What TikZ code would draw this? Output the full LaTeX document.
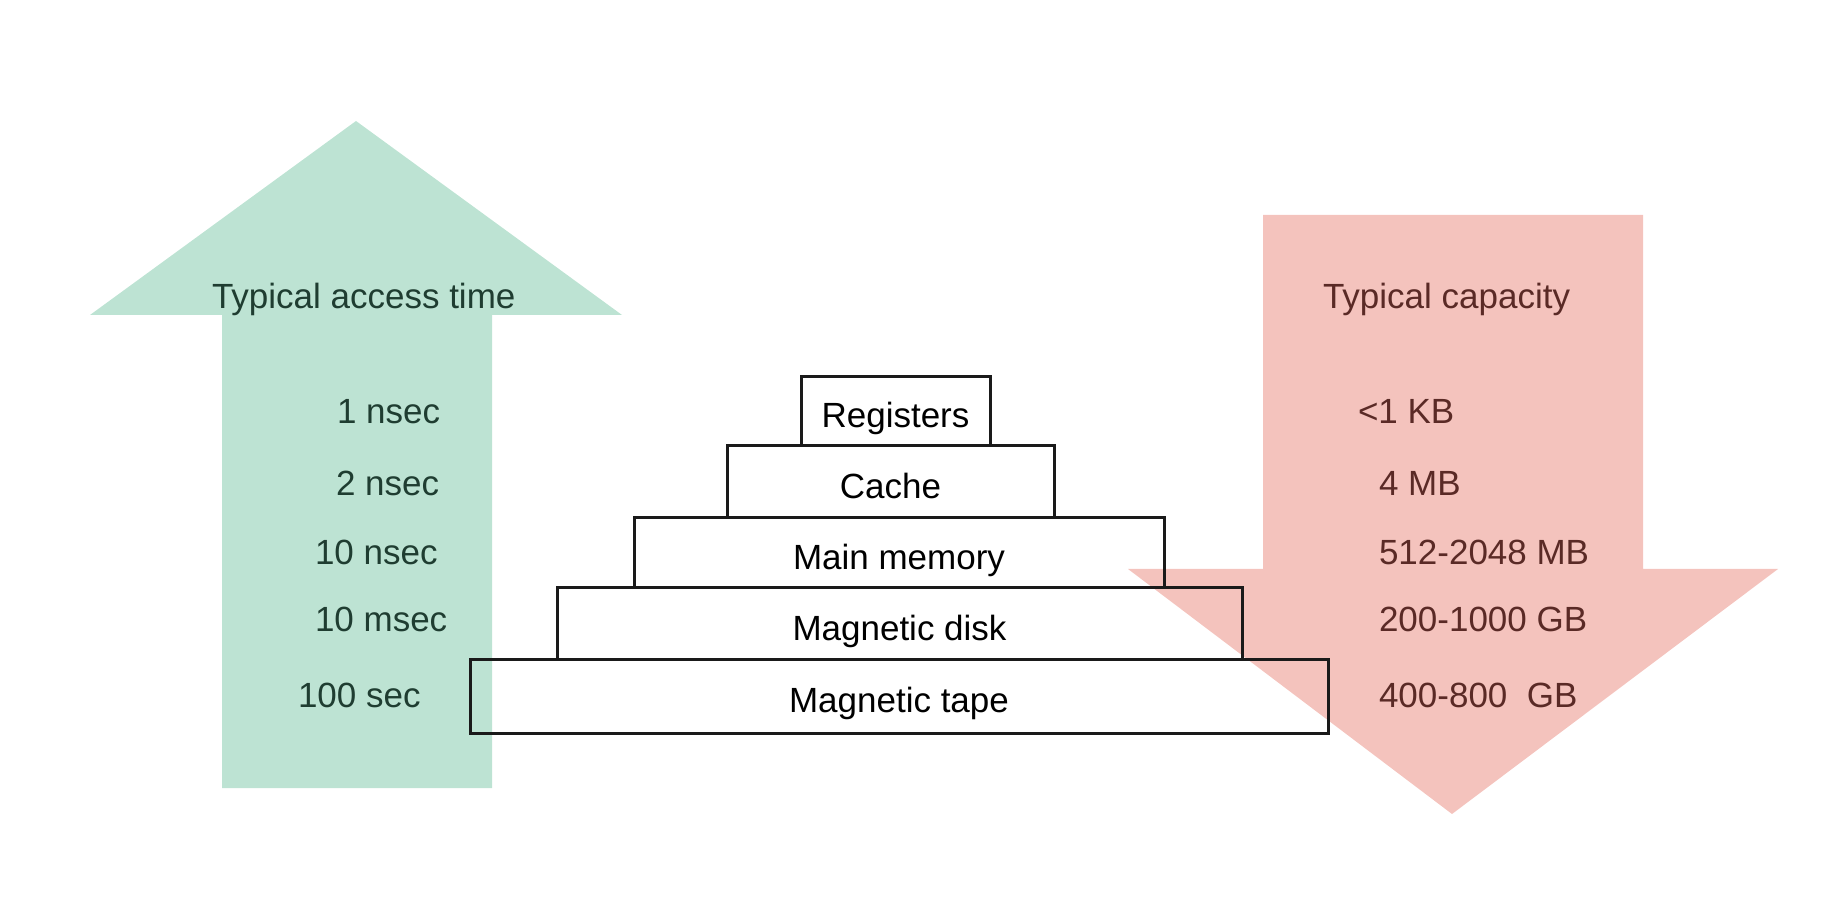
\documentclass[tikz,border=0pt]{standalone}
\usepackage{fontspec}
\setmainfont{Liberation Sans}
\definecolor{timegreen}{HTML}{BDE3D3}
\definecolor{capred}{HTML}{F4C3BD}
\definecolor{timetext}{HTML}{1F3D31}
\definecolor{captext}{HTML}{5A2A26}
\definecolor{tierline}{HTML}{1A1A1A}
\begin{document}
\begin{tikzpicture}[x=0.5pt,y=-0.5pt,
  every node/.style={font=\fontsize{17.5pt}{21pt}\selectfont, inner sep=0pt, outer sep=0pt},
  tier/.style={draw=tierline, line width=1.5pt, text=black, text height=16.5pt, text depth=0pt},
  timelbl/.style={anchor=base west, text=timetext},
  caplbl/.style={anchor=base west, text=captext}]
  \useasboundingbox (0,0) rectangle (1831,924);

  % access-time arrow (pointing up)
  \fill[timegreen] (356,121) -- (622,315) -- (492,315) -- (492,788)
    -- (222,788) -- (222,315) -- (90,315) -- cycle;
  % capacity arrow (pointing down)
  \fill[capred] (1263,215) -- (1643,215) -- (1643,569) -- (1778,569)
    -- (1452,814) -- (1128,569) -- (1263,569) -- cycle;

  % memory hierarchy
  \node[tier, minimum width=94.5pt, minimum height=34.5pt] (reg)  at (895.5,411.5) {Registers};
  \node[tier, minimum width=163.5pt, minimum height=36pt]  (cache) at (890.5,482)  {Cache};
  \node[tier, minimum width=265pt, minimum height=35pt]    (main) at (899,553)    {Main memory};
  \node[tier, minimum width=342.5pt, minimum height=35.5pt] (disk) at (899.5,623.5) {Magnetic disk};
  \node[tier, minimum width=429pt, minimum height=37pt]    (tape) at (899,696)    {Magnetic tape};

  % access times
  \node[timelbl] (thead) at (212,309) {Typical access time};
  \node[timelbl] (t1) at (337,424) {1 nsec};
  \node[timelbl] (t2) at (336,496) {2 nsec};
  \node[timelbl] (t3) at (315,565) {10 nsec};
  \node[timelbl] (t4) at (315,632) {10 msec};
  \node[timelbl] (t5) at (298,707) {100 sec};

  % capacities
  \node[caplbl] (chead) at (1323,309) {Typical capacity};
  \node[caplbl] (c1) at (1358,424) {<1 KB};
  \node[caplbl] (c2) at (1379,496) {4 MB};
  \node[caplbl] (c3) at (1379,565) {512-2048 MB};
  \node[caplbl] (c4) at (1379,632) {200-1000 GB};
  \node[caplbl] (c5) at (1379,707) {400-800\ \ GB};
\end{tikzpicture}
\end{document}
